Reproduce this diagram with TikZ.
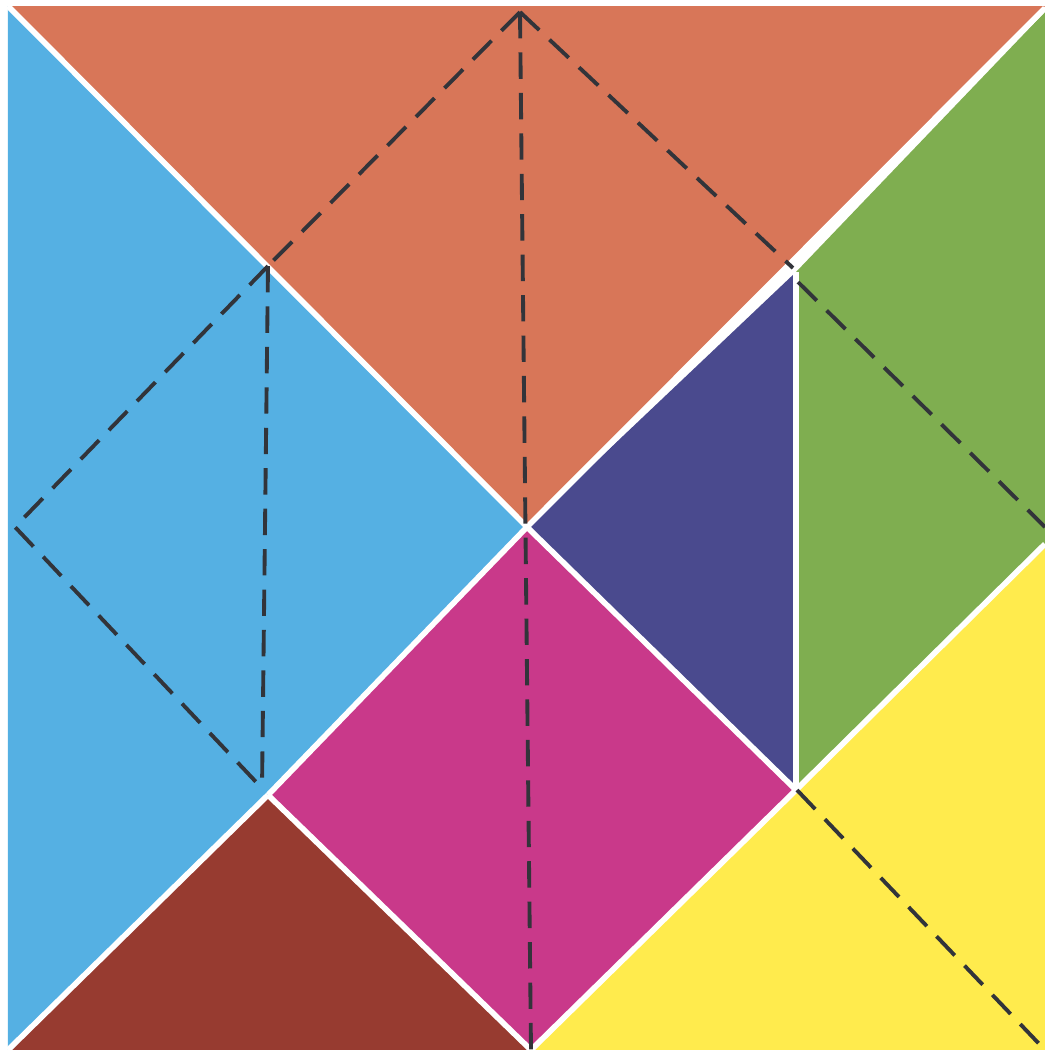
\documentclass[tikz,border=0pt]{standalone}
\definecolor{cOrange}{RGB}{216,118,88}
\definecolor{cBlue}{RGB}{85,176,227}
\definecolor{cGreen}{RGB}{127,174,80}
\definecolor{cPurple}{RGB}{74,74,142}
\definecolor{cMagenta}{RGB}{201,57,138}
\definecolor{cBrown}{RGB}{151,59,48}
\definecolor{cYellow}{RGB}{255,235,77}
\definecolor{cDash}{RGB}{50,52,58}
\tikzset{
  piece/.style={draw=white, line width=1.6pt, line join=round},
  guide/.style={draw=cDash, line width=1.1pt, dash pattern=on 7.5pt off 4pt}
}
\begin{document}
\begin{tikzpicture}[x=0.01cm,y=-0.01cm]
\fill[white] (0,0) rectangle (1045,1050);
\useasboundingbox (0,0) rectangle (1045,1050);
% corners and key points
\coordinate (TL) at (8,6);
\coordinate (TR) at (1045,6);
\coordinate (BL) at (8,1050);
\coordinate (BR) at (1045,1050);
\coordinate (C) at (527,527);
\coordinate (B) at (796,272);
\coordinate (D) at (796,790);
\coordinate (E) at (268,795);
\coordinate (F) at (531,1050);
\coordinate (R) at (1045,548);
\coordinate (TRg) at (1045,12);
% pieces
\fill[cOrange] (TL) -- (TR) -- (C) -- cycle;
\fill[cBlue] (TL) -- (C) -- (E) -- (BL) -- cycle;
\fill[cGreen] (B) -- (TRg) -- (R) -- (D) -- cycle;
\fill[cPurple] (B) -- (C) -- (D) -- cycle;
\fill[cMagenta] (C) -- (D) -- (F) -- (E) -- cycle;
\fill[cBrown] (E) -- (F) -- (BL) -- cycle;
\fill[cYellow] (R) -- (BR) -- (F) -- (D) -- cycle;
% white separating lines
\draw[piece] (TL) -- (C);
\draw[piece] (1045,8) -- (C);
\draw[piece] (B) -- (D);
\draw[piece] (C) -- (E);
\draw[piece] (C) -- (D);
\draw[piece] (1045,544) -- (D) -- (F);
\draw[piece] (E) -- (F);
\draw[piece] (E) -- (BL);
\draw[white, line width=3pt] (0,0) -- (0,1050);
% dashed guide lines
\coordinate (T) at (520,12);
\coordinate (A) at (268,266);
\coordinate (H) at (15,527);
\coordinate (Hb) at (258,784);
\coordinate (Ab) at (262,790);
\coordinate (Bd) at (793,268);
\coordinate (Bs) at (798,282);
\coordinate (G) at (1045,527);
\coordinate (Ds) at (797,790);
\draw[guide] (T) -- (A);
\draw[guide] (T) -- (Bd);
\draw[guide] (T) -- (F);
\draw[guide] (A) -- (H) -- (Hb);
\draw[guide] (A) -- (Ab);
\draw[guide] (Bs) -- (G);
\draw[guide] (Ds) -- (BR);
\end{tikzpicture}
\end{document}
